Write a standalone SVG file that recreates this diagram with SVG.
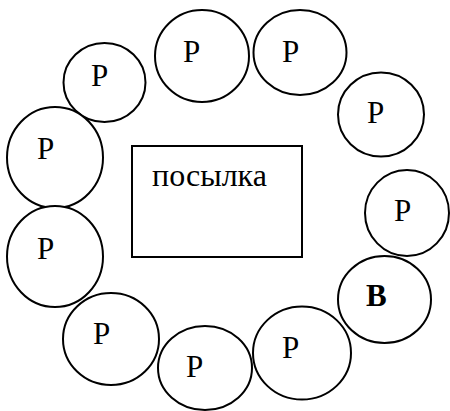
<svg xmlns="http://www.w3.org/2000/svg" width="450" height="411" viewBox="0 0 450 411">
<style>
.n{fill:#fff;stroke:#000;stroke-width:2}
.t{font-family:"Liberation Serif","Times New Roman",serif;font-size:31px;fill:#000}
.b{font-weight:bold}
</style>
<rect width="450" height="411" fill="#fff"/>
<g id="connectors"></g>
<g id="n1"><ellipse class="n" cx="104.5" cy="82.5" rx="41" ry="39.5"/><text class="t" x="91" y="86">P</text></g>
<g id="n2"><ellipse class="n" cx="202" cy="56" rx="47" ry="46"/><text class="t" x="183" y="62">P</text></g>
<g id="n3"><ellipse class="n" cx="300" cy="52.5" rx="46.5" ry="42.5"/><text class="t" x="282" y="62">P</text></g>
<g id="n4"><ellipse class="n" cx="381" cy="114.5" rx="43" ry="42"/><text class="t" x="367" y="123">P</text></g>
<g id="n5"><ellipse class="n" cx="55" cy="157.5" rx="48" ry="50.5"/><text class="t" x="37" y="159">P</text></g>
<g id="n6"><ellipse class="n" cx="55" cy="256.5" rx="48" ry="50.5"/><text class="t" x="37" y="259">P</text></g>
<g id="n7"><ellipse class="n" cx="111" cy="339" rx="48" ry="46"/><text class="t" x="93" y="344">P</text></g>
<g id="n8"><ellipse class="n" cx="205" cy="368" rx="47" ry="42"/><text class="t" x="186" y="377">P</text></g>
<g id="n9"><ellipse class="n" cx="302" cy="353" rx="49" ry="46.5"/><text class="t" x="282" y="358">P</text></g>
<g id="n10"><ellipse class="n" cx="407" cy="213" rx="42" ry="43"/><text class="t" x="394" y="221">P</text></g>
<g id="n11"><ellipse class="n" cx="384.5" cy="299.5" rx="46.5" ry="43.5"/><text class="t b" x="366" y="306">B</text></g>
<g id="box"><rect class="n" x="132" y="146" width="170" height="111"/><text class="t" x="152" y="186" style="font-size:32px">посылка</text></g>
</svg>
